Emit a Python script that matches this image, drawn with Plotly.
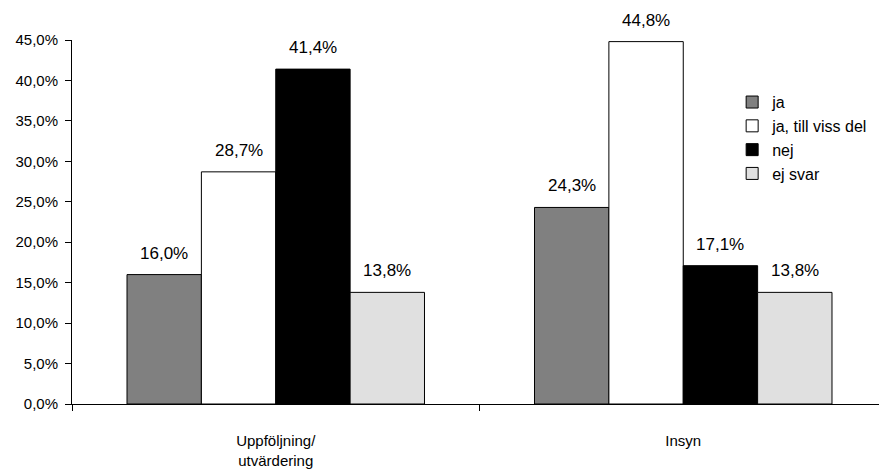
import plotly.graph_objects as go

categories = ["Uppföljning/<br>utvärdering", "Insyn"]
series_names = ["ja", "ja, till viss del", "nej", "ej svar"]
ja = [0.160, 0.243]
ja_till_viss_del = [0.287, 0.448]
nej = [0.414, 0.171]
ej_svar = [0.138, 0.138]
y_ticks = [0, 0.05, 0.10, 0.15, 0.20, 0.25, 0.30, 0.35, 0.40, 0.45]

series_values = [ja, ja_till_viss_del, nej, ej_svar]
colors = ["#808080", "#ffffff", "#000000", "#e0e0e0"]

FONT = "Liberation Sans, Arial, sans-serif"
W, H = 887, 471
ML, MR, MT, MB = 64, 8, 32, 75
BARGAP = 0.27

fig = go.Figure()
for name, vals, col in zip(series_names, series_values, colors):
    fig.add_trace(go.Bar(
        x=categories, y=vals, name=name,
        marker=dict(color=col, line=dict(color="#000000", width=1)),
        cliponaxis=False,
    ))

# value labels above bars
plot_w = W - ML - MR
bar_w = plot_w / len(categories) * (1 - BARGAP) / len(series_names)
annotations = []
for i, vals in enumerate(series_values):
    shift = (i - (len(series_names) - 1) / 2) * bar_w
    for cat, v in zip(categories, vals):
        annotations.append(dict(
            x=cat, y=v, xref="x", yref="y",
            text=f"{v*100:.1f}%".replace(".", ","),
            showarrow=False, xshift=shift, yshift=10,
            xanchor="center", yanchor="bottom",
            font=dict(family=FONT, size=17, color="#000000"),
        ))

fig.update_layout(
    width=W, height=H,
    margin=dict(l=ML, r=MR, t=MT, b=MB),
    paper_bgcolor="white", plot_bgcolor="white",
    barmode="group", bargap=BARGAP, bargroupgap=0,
    separators=", ",
    font=dict(family=FONT, size=15, color="#000000"),
    showlegend=True,
    legend=dict(x=0.81, y=0.876, xanchor="left", yanchor="top",
                bgcolor="rgba(0,0,0,0)", font=dict(size=16),
                itemwidth=30, tracegroupgap=0),
    annotations=annotations,
)
fig.update_yaxes(range=[0, 0.45], tickvals=y_ticks, tickformat=".1%",
                 showgrid=False, zeroline=False, showline=True,
                 linecolor="#000000", linewidth=1, ticks="outside",
                 ticklen=6, tickcolor="#000000", ticklabelstandoff=4,
                 tickfont=dict(size=15, color="#000000"))
fig.update_xaxes(showgrid=False, showline=True, linecolor="#000000", linewidth=1,
                 ticks="outside", tickson="boundaries", ticklen=6,
                 tickcolor="#000000", ticklabelstandoff=23,
                 tickfont=dict(size=15, color="#000000"))

fig.write_html("out.html")
